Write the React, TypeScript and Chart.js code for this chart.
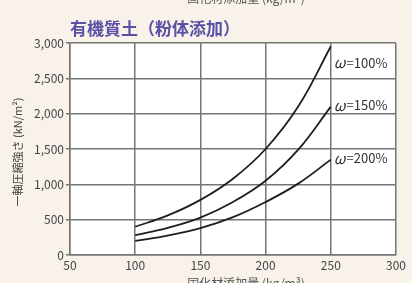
import React, { useEffect, useRef } from "react";
import { Chart, registerables } from "chart.js";

Chart.register(...registerables);

const xValues = [100, 125, 150, 175, 200, 225, 250];
const w100 = [400, 560, 780, 1080, 1500, 2100, 2950];
const w150 = [280, 385, 530, 750, 1050, 1490, 2100];
const w200 = [200, 275, 380, 535, 750, 1010, 1350];
const seriesLabels = ["ω=100%", "ω=150%", "ω=200%"];
const labelYValues = [2720, 2120, 1370];
const xTicks = [50, 100, 150, 200, 250, 300];
const yTicks = [0, 500, 1000, 1500, 2000, 2500, 3000];

const FONT = "'Noto Sans CJK JP', 'Noto Sans', sans-serif";

const decorPlugin = {
  id: "decor",
  beforeDraw(chart: any) {
    const { ctx, chartArea } = chart;
    ctx.save();
    ctx.fillStyle = "#f8f2eb";
    ctx.fillRect(0, 0, chart.width, chart.height);
    ctx.fillStyle = "#ffffff";
    ctx.fillRect(chartArea.left, chartArea.top, chartArea.right - chartArea.left, chartArea.bottom - chartArea.top);
    ctx.restore();
  },
  afterDraw(chart: any) {
    const { ctx, chartArea, scales } = chart;
    ctx.save();
    // title
    ctx.fillStyle = "#5a50a6";
    ctx.font = `bold 17px ${FONT}`;
    ctx.textAlign = "left";
    ctx.textBaseline = "middle";
    ctx.fillText("有機質土（粉体添加）", chartArea.left, 29);
    // clipped top axis title
    ctx.fillStyle = "#555";
    ctx.font = `12px ${FONT}`;
    ctx.textAlign = "center";
    ctx.textBaseline = "bottom";
    ctx.fillText("固化材添加量 (kg/m³)", 246, 4);
    // clipped bottom axis title
    ctx.textBaseline = "top";
    ctx.fillText("固化材添加量 (kg/m³)", 246, 277);
    // y title
    ctx.save();
    ctx.translate(18, 152);
    ctx.rotate(-Math.PI / 2);
    ctx.font = `11px ${FONT}`;
    ctx.fillStyle = "#444";
    ctx.textAlign = "center";
    ctx.textBaseline = "middle";
    ctx.fillText("一軸圧縮強さ (kN/m²)", 0, 0);
    ctx.restore();
    // series labels
    ctx.fillStyle = "#333";
    ctx.textAlign = "left";
    ctx.textBaseline = "middle";
    const lx = scales.x.getPixelForValue(250) + 3;
    seriesLabels.forEach((lab, i) => {
      const y = scales.y.getPixelForValue(labelYValues[i]);
      ctx.font = `italic 15px ${FONT}`;
      ctx.fillText("ω", lx, y);
      const w = ctx.measureText("ω").width;
      ctx.font = `13px ${FONT}`;
      ctx.fillText(lab.slice(1), lx + w + 1, y);
    });
    ctx.restore();
  },
};

export default function App() {
  const ref = useRef<HTMLCanvasElement | null>(null);
  useEffect(() => {
    if (!ref.current) return;
    const mk = (data: number[]) => ({
      data: xValues.map((x, i) => ({ x, y: data[i] })),
      borderColor: "#1e1e1e",
      borderWidth: 1.8,
      pointRadius: 0,
      fill: false,
      tension: 0.4,
    });
    const chart = new Chart(ref.current, {
      type: "line",
      data: {
        datasets: [mk(w100), mk(w150), mk(w200)],
      },
      options: {
        animation: false,
        responsive: false,
        maintainAspectRatio: false,
        layout: { padding: { left: 0, right: 16, top: 43, bottom: 0 } },
        plugins: { legend: { display: false }, tooltip: { enabled: false }, title: { display: false } },
        scales: {
          x: {
            type: "linear",
            min: 50,
            max: 300,
            afterBuildTicks: (s: any) => { s.ticks = xTicks.map((v) => ({ value: v })); },
            afterFit: (s: any) => { s.height = 28; },
            ticks: { color: "#444", font: { size: 12, family: FONT }, padding: 3 },
            grid: { color: "#757575", lineWidth: 1.5, tickLength: 0, drawTicks: false },
            border: { color: "#757575", width: 1.5 },
          },
          y: {
            type: "linear",
            min: 0,
            max: 3000,
            afterBuildTicks: (s: any) => { s.ticks = yTicks.map((v) => ({ value: v })); },
            afterFit: (s: any) => { s.width = 70; },
            ticks: {
              color: "#444",
              font: { size: 12, family: FONT },
              padding: 2,
              callback: (v: any) => Number(v).toLocaleString("en-US"),
            },
            grid: { color: "#757575", lineWidth: 1.5, tickLength: 4 },
            border: { color: "#757575", width: 1.5 },
          },
        },
      },
      plugins: [decorPlugin],
    });
    return () => chart.destroy();
  }, []);
  return (
    <div style={{ position: "fixed", left: 0, top: 0, width: 412, height: 283, overflow: "hidden" }}>
      <canvas ref={ref} width={412} height={283} style={{ display: "block" }} />
    </div>
  );
}
